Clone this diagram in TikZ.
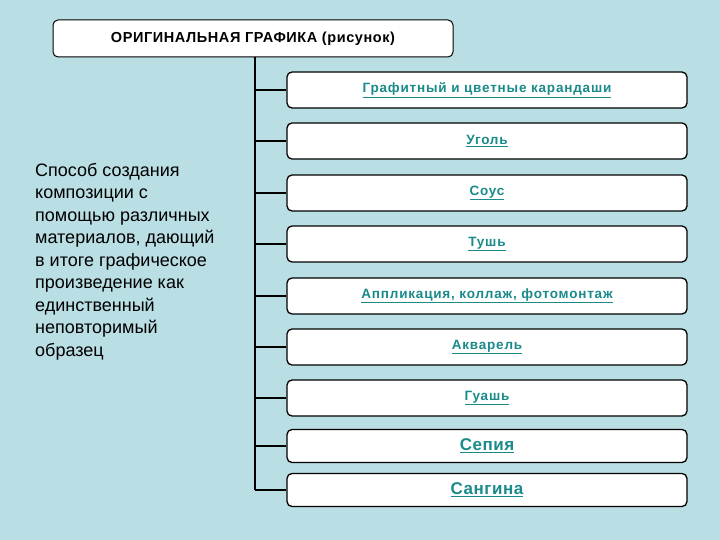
\documentclass[tikz,border=0pt]{standalone}
\usepackage{fontspec}
\setmainfont{Liberation Sans}
\definecolor{bg}{HTML}{B9DEE3}
\definecolor{tl}{HTML}{1A8A8A}
\begin{document}
\begin{tikzpicture}[x=1pt,y=-1pt,
  item/.style={draw=black,line width=1.3pt,rounded corners=5pt,fill=white,minimum width=400pt,minimum height=36pt,font=\bfseries\fontsize{13.5}{15}\selectfont\addfontfeatures{LetterSpace=6},text=tl},
  link/.style={line width=1.2pt}]
\fill[bg] (0,0) rectangle (720,540);
\node[draw=black,line width=1pt,rounded corners=5pt,fill=white,minimum width=400pt,minimum height=37pt,font=\bfseries\fontsize{14.5}{16}\selectfont\addfontfeatures{LetterSpace=4}] (top) at (253,38.5) {ОРИГИНАЛЬНАЯ ГРАФИКА (рисунок)};
\coordinate (v0) at (255,57);
\foreach \n/\y/\t in {1/90/Графитный и цветные карандаши,2/141/Уголь,3/193/Соус,4/244/Тушь,5/296/{Аппликация, коллаж, фотомонтаж},6/347/Акварель,7/398/Гуашь}{
  \node[item] (i\n) at (487,\y) {\underline{\t}};
  \coordinate (c\n) at (255,\y);
  \draw[link] (c\n) -- (i\n.west);
}
\node[item,minimum height=33pt,font=\bfseries\fontsize{17}{19}\selectfont\addfontfeatures{LetterSpace=3}] (i8) at (487,446) {\underline{Сепия}};
\coordinate (c8) at (255,446);
\draw[link] (c8) -- (i8.west);
\node[item,minimum height=33pt,font=\bfseries\fontsize{17}{19}\selectfont\addfontfeatures{LetterSpace=3}] (i9) at (487,490) {\underline{Сангина}};
\coordinate (c9) at (255,490);
\draw[link] (c9) -- (i9.west);
\draw[link] (v0) -- (c9);
\node[anchor=north west,align=left,inner sep=0pt,font=\fontsize{18}{22.5}\selectfont] (desc) at (35,163) {Способ создания\\композиции  с\\помощью различных\\материалов, дающий\\в итоге графическое\\произведение как\\единственный\\неповторимый\\образец};
\end{tikzpicture}
\end{document}
